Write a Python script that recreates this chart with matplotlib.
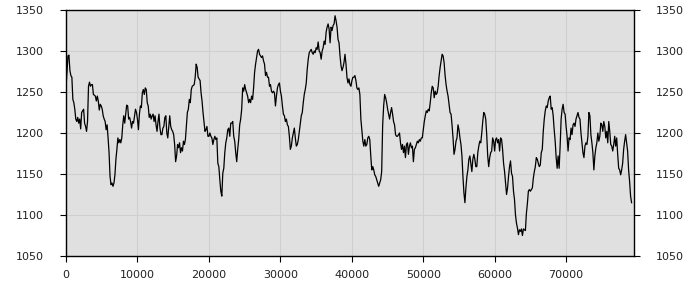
import numpy as np
import matplotlib
matplotlib.use("Agg")
import matplotlib.pyplot as plt

# values, roughly every 140 x-units
seg1 = [1255, 1274, 1294, 1295, 1276, 1270, 1268, 1241, 1237, 1229, 1217, 1214, 1219, 1212,
        1217, 1205, 1225, 1227, 1229, 1212, 1208, 1202, 1214, 1257, 1262, 1257, 1259, 1259,
        1247, 1246, 1245, 1239, 1245, 1239, 1228, 1235, 1233, 1229, 1221, 1217, 1214, 1204,
        1210, 1194, 1176, 1147, 1137, 1139, 1135, 1139, 1149, 1168, 1180, 1194, 1188, 1192,
        1188, 1194, 1210, 1221, 1212, 1223, 1234, 1233, 1217, 1219, 1214, 1206, 1214, 1212,
        1221, 1229, 1225, 1217, 1204, 1223, 1233, 1231, 1249, 1253, 1247, 1255, 1253, 1237,
        1233, 1219, 1223, 1217, 1221, 1223, 1214, 1221, 1210, 1202, 1214, 1223, 1206, 1198,
        1198, 1206, 1208, 1219, 1221, 1200, 1194, 1208, 1221, 1208, 1204, 1202, 1198, 1186,
        1165, 1172, 1186, 1182, 1188, 1176, 1182, 1178, 1190, 1186, 1192, 1208, 1225, 1229,
        1241, 1237, 1253, 1257, 1258, 1259, 1268, 1284, 1280, 1268, 1266, 1264, 1249, 1239,
        1225, 1214, 1202, 1204, 1208, 1196]
seg2 = [1196, 1200, 1196, 1194, 1186, 1192, 1196, 1192, 1194, 1163, 1159, 1143, 1129, 1123,
        1151, 1157, 1176, 1188, 1194, 1204, 1206, 1196, 1212, 1212, 1214, 1196, 1190, 1176,
        1165, 1180, 1192, 1210, 1217, 1229, 1255, 1251, 1259, 1253, 1249, 1245, 1237, 1241,
        1237, 1245, 1241, 1255, 1274, 1284, 1292, 1300, 1302, 1296, 1294, 1292, 1294, 1288,
        1284, 1270, 1274, 1268, 1268, 1257, 1259, 1251, 1249, 1251, 1249, 1233, 1245, 1255,
        1259, 1261, 1251, 1245, 1233, 1223, 1221, 1214, 1217, 1210, 1208, 1196, 1180, 1184,
        1194, 1200, 1206, 1194, 1184, 1186, 1192, 1202, 1212, 1221, 1225, 1237, 1247, 1253,
        1261, 1278, 1290, 1298, 1300, 1302, 1298, 1296, 1300, 1298, 1304, 1302, 1311, 1300,
        1298, 1290, 1300, 1304, 1312, 1308, 1323, 1329, 1333, 1327, 1310, 1329, 1325, 1331,
        1333, 1343, 1337, 1329, 1314, 1310, 1294, 1282, 1276, 1280, 1286, 1296, 1284, 1268,
        1261, 1266, 1259, 1257, 1264, 1268]
seg3 = [1268, 1270, 1264, 1255, 1253, 1255, 1247, 1217, 1204, 1190, 1184, 1192, 1184, 1186,
        1194, 1196, 1192, 1172, 1155, 1159, 1155, 1149, 1147, 1143, 1139, 1135, 1139, 1143,
        1153, 1210, 1233, 1247, 1243, 1237, 1229, 1223, 1217, 1225, 1231, 1223, 1214, 1210,
        1198, 1196, 1196, 1198, 1200, 1188, 1180, 1186, 1176, 1184, 1170, 1186, 1188, 1174,
        1184, 1188, 1182, 1184, 1165, 1180, 1182, 1186, 1190, 1188, 1192, 1190, 1194, 1194,
        1204, 1214, 1221, 1227, 1225, 1229, 1227, 1237, 1249, 1257, 1255, 1243, 1251, 1247,
        1249, 1257, 1270, 1280, 1288, 1296, 1294, 1286, 1270, 1259, 1251, 1245, 1235, 1225,
        1223, 1210, 1194, 1174, 1180, 1190, 1194, 1210, 1204, 1194, 1186, 1172, 1147, 1127,
        1115, 1133, 1147, 1155, 1168, 1172, 1163, 1153, 1168, 1174, 1168, 1159, 1159, 1176,
        1184, 1190, 1188, 1200, 1214, 1225, 1223, 1217, 1198, 1172, 1159, 1170, 1176, 1178,
        1194, 1190, 1178, 1192, 1194, 1188]
seg4 = [1192, 1178, 1194, 1192, 1180, 1163, 1153, 1139, 1125, 1133, 1147, 1159, 1166, 1151,
        1147, 1129, 1119, 1100, 1090, 1084, 1076, 1082, 1080, 1083, 1075, 1083, 1082, 1081,
        1102, 1114, 1129, 1131, 1129, 1131, 1133, 1145, 1153, 1159, 1170, 1168, 1163, 1159,
        1161, 1176, 1180, 1202, 1217, 1227, 1233, 1231, 1239, 1243, 1245, 1229, 1231, 1221,
        1204, 1190, 1170, 1157, 1172, 1157, 1184, 1217, 1229, 1235, 1225, 1223, 1208, 1196,
        1178, 1194, 1192, 1206, 1198, 1210, 1212, 1208, 1217, 1221, 1225, 1219, 1217, 1200,
        1188, 1176, 1170, 1184, 1188, 1186, 1196, 1225, 1221, 1198, 1188, 1176, 1155, 1172,
        1182, 1188, 1200, 1190, 1196, 1212, 1210, 1202, 1214, 1208, 1194, 1202, 1188, 1214,
        1202, 1186, 1184, 1178, 1186, 1196, 1184, 1194, 1174, 1157, 1155, 1149, 1155, 1163,
        1180, 1190, 1198, 1188, 1178, 1155, 1141, 1123, 1115]
x_edges = [0, 20000, 40300, 60550, 79300]

x_ticks = np.arange(0, 80000, 10000)
y_ticks = np.arange(1050, 1351, 50)

xs, ys = [], []
for seg, a, b in zip([seg1, seg2, seg3, seg4], x_edges[:-1], x_edges[1:]):
    xs.append(np.linspace(a, b, len(seg), endpoint=False))
    ys.append(np.array(seg, dtype=float))
x = np.concatenate(xs)
y = np.concatenate(ys)

fig = plt.figure(figsize=(7, 3), dpi=100)
ax = fig.add_axes([66 / 700, 44 / 300, 568 / 700, 246 / 300])
ax.set_facecolor("#e0e0e0")
ax.plot(x, y, color="black", lw=0.9)

ax.set_xlim(0, 79500)
ax.set_ylim(1050, 1350)
ax.set_xticks(x_ticks)
ax.set_yticks(y_ticks)
ax.grid(True, color="#cfcfcf", lw=0.8)
ax.set_axisbelow(True)
ax.tick_params(axis="both", direction="out", length=4, width=0.8, labelsize=8,
               colors="black", labelcolor="#222222")
ax.tick_params(axis="y", right=True, labelright=True, pad=12)
ax.tick_params(axis="x", pad=6)
for sp in ax.spines.values():
    sp.set_color("black")
    sp.set_linewidth(1)

fig.savefig("out.png", dpi=100)
